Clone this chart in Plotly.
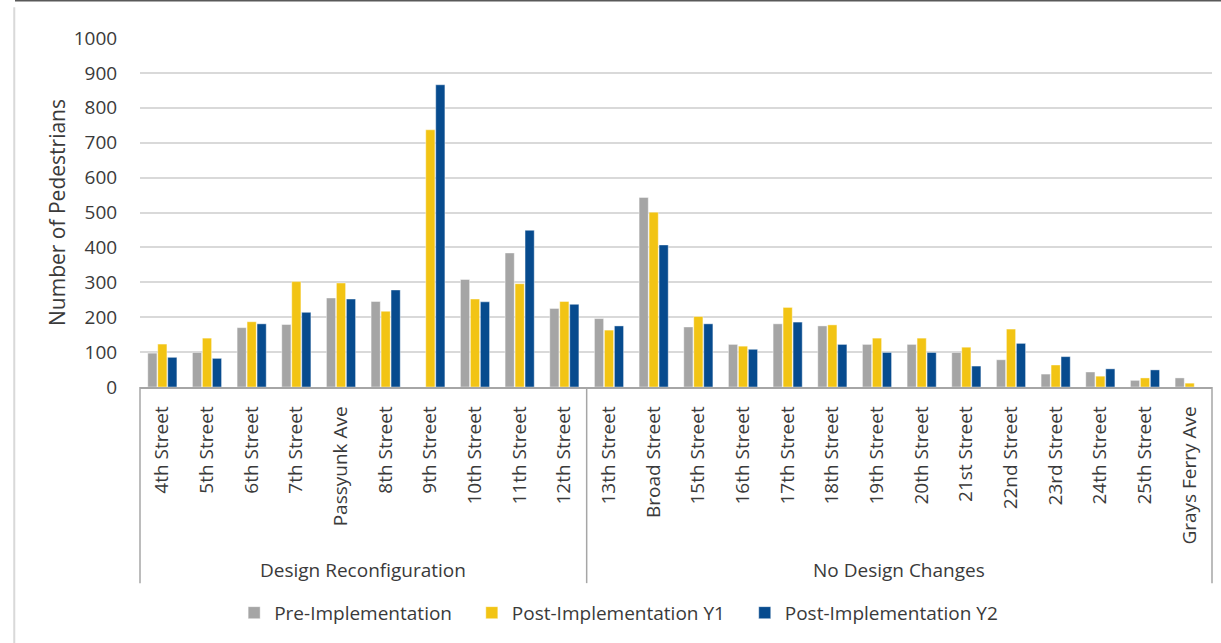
import plotly.graph_objects as go

group_names = ["Design Reconfiguration", "No Design Changes"]
group1_streets = ["4th Street", "5th Street", "6th Street", "7th Street", "Passyunk Ave",
                  "8th Street", "9th Street", "10th Street", "11th Street", "12th Street"]
group2_streets = ["13th Street", "Broad Street", "15th Street", "16th Street", "17th Street",
                  "18th Street", "19th Street", "20th Street", "21st Street", "22nd Street",
                  "23rd Street", "24th Street", "25th Street", "Grays Ferry Ave"]
streets = group1_streets + group2_streets

series_names = ["Pre-Implementation", "Post-Implementation Y1", "Post-Implementation Y2"]
pre_impl = [97, 99, 170, 179, 255, 245, 0, 308, 384, 225,
            196, 543, 172, 122, 181, 175, 122, 122, 99, 78, 37, 43, 19, 26]
post_y1 = [123, 140, 187, 302, 298, 217, 737, 252, 296, 245,
           163, 501, 202, 117, 228, 178, 140, 140, 114, 166, 63, 31, 26, 11]
post_y2 = [85, 82, 181, 214, 252, 278, 866, 244, 449, 237,
           175, 407, 181, 108, 186, 122, 99, 99, 60, 125, 87, 52, 49, 0]
series_values = [pre_impl, post_y1, post_y2]
series_colors = ["#A5A5A5", "#F2C414", "#074B8E"]

y_ticks = list(range(0, 1001, 100))

FONT = "Open Sans"
TXT = "#3a3a3a"
NB = "\u00a0"
legend_pad = [3, 3, 0]  # trailing spacing of legend entries

fig = go.Figure()
for name, vals, col, pad in zip(series_names, series_values, series_colors, legend_pad):
    fig.add_trace(go.Bar(
        x=streets, y=vals, name=name + NB * pad,
        marker=dict(color=col, line=dict(color="rgba(255,255,255,0.7)", width=0.6)),
    ))

n1 = len(group1_streets)
n = len(streets)
axis_col = "#a6a6a6"

shapes = []
# group dividers below axis
for b in [0, n1, n]:
    shapes.append(dict(type="line", xref="x domain", yref="y domain",
                       x0=b / n, x1=b / n, y0=0, y1=-0.562,
                       line=dict(color=axis_col, width=1.5)))
# outer frame fragments (cropped chart border)
shapes.append(dict(type="line", xref="paper", yref="paper",
                   x0=-0.1166, x1=1.01, y0=1.108, y1=1.108,
                   line=dict(color="#595959", width=2.5)))
shapes.append(dict(type="line", xref="paper", yref="paper",
                   x0=-0.1173, x1=-0.1173, y0=1.088, y1=-0.75,
                   line=dict(color="#d9d9d9", width=2)))

annotations = []
group_centers = [(n1 / 2) / n, (n1 + (n - n1) / 2) / n]
for gname, cx in zip(group_names, group_centers):
    annotations.append(dict(text=gname, xref="x domain", yref="y domain",
                            x=cx, y=-0.525, showarrow=False,
                            xanchor="center", yanchor="middle",
                            font=dict(family=FONT, size=19, color=TXT)))

fig.update_layout(
    width=1221, height=643,
    margin=dict(l=140, r=9, t=38, b=256, autoexpand=False),
    paper_bgcolor="white", plot_bgcolor="white",
    barmode="group", bargap=0.33, bargroupgap=0.08,
    font=dict(family=FONT, size=19, color=TXT),
    showlegend=True,
    legend=dict(orientation="h", x=0.4465, xanchor="center", y=-0.647, yanchor="middle",
                font=dict(family=FONT, size=19, color=TXT),
                itemwidth=30, traceorder="normal", tracegroupgap=0,
                bgcolor="rgba(0,0,0,0)"),
    shapes=shapes,
    annotations=annotations,
)
fig.update_xaxes(
    type="category", categoryorder="array", categoryarray=streets,
    tickangle=-90, tickfont=dict(family=FONT, size=19, color=TXT),
    showline=True, linecolor=axis_col, linewidth=1.5,
    ticks="outside", ticklen=10, tickcolor="rgba(0,0,0,0)",
    showgrid=False, zeroline=False,
)
fig.update_yaxes(
    range=[0, 1000], tickmode="array", tickvals=y_ticks,
    ticktext=[str(v) for v in y_ticks],
    tickfont=dict(family=FONT, size=19, color=TXT),
    showgrid=True, gridcolor="#d9d9d9", gridwidth=2,
    zeroline=False, showline=False,
    ticks="outside", ticklen=18, tickcolor="rgba(0,0,0,0)",
    title=dict(text="Number of Pedestrians", font=dict(family=FONT, size=21, color=TXT),
               standoff=2),
)

fig.write_html("out.html",
               config={"displayModeBar": False},
               post_script="document.body.style.margin='0';document.body.style.overflow='hidden';")
